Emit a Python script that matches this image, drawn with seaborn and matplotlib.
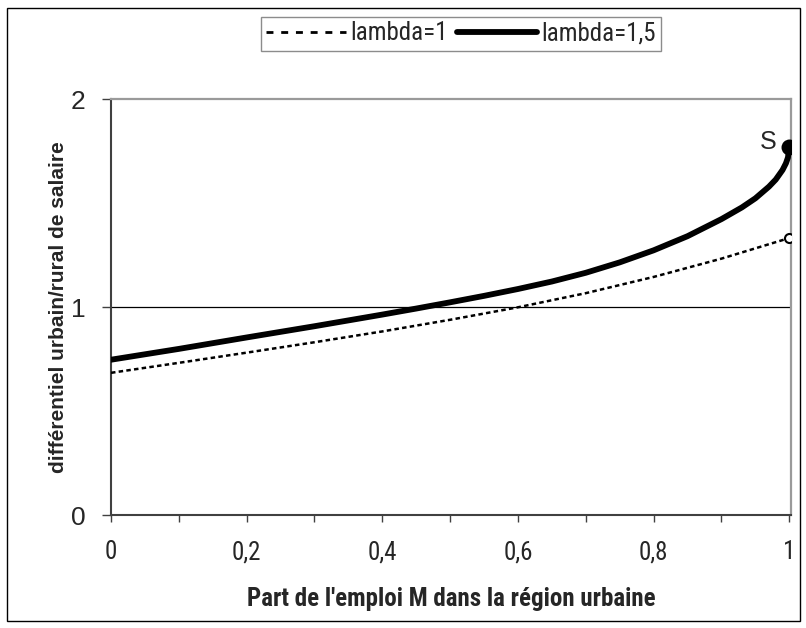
import matplotlib
matplotlib.use("Agg")
import matplotlib.pyplot as plt
from matplotlib.patches import Rectangle
import seaborn as sns
import pandas as pd

# ---- data ----
x_lambda1 = [0.0, 0.1, 0.2, 0.3, 0.4, 0.5, 0.6, 0.7, 0.8, 0.9, 1.0]
y_lambda1 = [0.685, 0.733, 0.782, 0.832, 0.884, 0.94, 1.0, 1.068, 1.146, 1.234, 1.333]

x_lambda15 = [0.0, 0.1, 0.2, 0.3, 0.4, 0.45, 0.5, 0.55, 0.6, 0.65, 0.7, 0.75, 0.8, 0.85,
              0.9, 0.93, 0.95, 0.97, 0.98, 0.99, 0.995, 0.998, 1.0]
y_lambda15 = [0.748, 0.800, 0.855, 0.909, 0.965, 0.994, 1.024, 1.055, 1.088, 1.124, 1.166,
              1.216, 1.274, 1.342, 1.424, 1.480, 1.524, 1.580, 1.614, 1.660, 1.692, 1.720, 1.770]

series_labels = ["lambda=1", "lambda=1,5"]
x_ticks = [0, 0.2, 0.4, 0.6, 0.8, 1.0]
x_ticklabels = ["0", "0,2", "0,4", "0,6", "0,8", "1"]
x_minor = [0.1, 0.3, 0.5, 0.7, 0.9]
y_ticks = [0, 1, 2]
y_ticklabels = ["0", "1", "2"]
point_label = "S"

df1 = pd.DataFrame({"x": x_lambda1, "y": y_lambda1})
df2 = pd.DataFrame({"x": x_lambda15, "y": y_lambda15})

sns.set_style("white")
plt.rcParams["font.family"] = ["Liberation Sans", "DejaVu Sans"]
NARROW = ["Roboto Condensed", "Archivo Narrow", "Liberation Sans", "DejaVu Sans"]

W, H = 806, 628
fig = plt.figure(figsize=(W / 100, H / 100), dpi=100)
ax = fig.add_axes([111 / W, 1 - 515.3 / H, (791 - 111) / W, (515.3 - 99.3) / H])

ax.axhline(1, color="black", lw=0.9, zorder=1)

sns.lineplot(data=df1, x="x", y="y", ax=ax, color="black", lw=1.8,
             estimator=None, sort=True, label=series_labels[0], zorder=3)
ax.lines[-1].set_dashes([1.8, 1.3])
sns.lineplot(data=df2, x="x", y="y", ax=ax, color="black", lw=4.2,
             estimator=None, sort=True, label=series_labels[1], zorder=3)
ax.lines[-1].set_solid_capstyle("round")

sns.scatterplot(x=[x_lambda1[-1]], y=[y_lambda1[-1]], ax=ax, s=6.5 ** 2,
                color="white", edgecolor="black", linewidth=1.5, zorder=5, legend=False)
sns.scatterplot(x=[x_lambda15[-1]], y=[y_lambda15[-1]], ax=ax, s=11.5 ** 2,
                color="black", edgecolor="black", linewidth=0, zorder=5, legend=False)
ax.annotate(point_label, (x_lambda15[-1], y_lambda15[-1]), xytext=(-15, 4),
            textcoords="offset points", ha="center", va="center", fontsize=18)

ax.set_xlim(0, (791 - 111) / 678.3)
ax.set_ylim(0, 2)

ax.set_xticks(x_ticks)
ax.set_xticklabels(x_ticklabels, fontsize=18, family=NARROW)
ax.set_xticks(x_minor, minor=True)
ax.set_yticks(y_ticks)
ax.set_yticklabels(y_ticklabels, fontsize=19)
ax.tick_params(axis="x", which="both", direction="out", length=5, width=1,
               color="#404040", pad=13, bottom=True)
ax.tick_params(axis="y", which="both", direction="out", length=6.5, width=1,
               color="#404040", pad=12, left=True)

for s in ["left", "bottom"]:
    ax.spines[s].set_color("#404040")
    ax.spines[s].set_linewidth(1.5)
for s in ["top", "right"]:
    ax.spines[s].set_color("#9a9a9a")
    ax.spines[s].set_linewidth(1.6)

ax.set_xlabel("Part de l'emploi M dans la région urbaine", family=NARROW,
              fontsize=18, fontweight="bold", labelpad=16)
ax.set_ylabel("différentiel urbain/rural de salaire", fontsize=15, fontweight="bold")
ax.yaxis.set_label_coords((68 - 111) / 680, 0.5)

handles, labels = ax.get_legend_handles_labels()
ax.get_legend().remove()
leg = fig.legend(handles, labels, loc="center", bbox_to_anchor=(461 / W, 1 - 33.5 / H),
                 ncol=2, prop={"size": 18, "family": NARROW},
                 handlelength=3.2, handletextpad=0.17, columnspacing=0.4,
                 borderpad=0.2, frameon=True, fancybox=False, borderaxespad=0)
leg.get_frame().set_edgecolor("#707070")
leg.get_frame().set_linewidth(1.0)
leg.get_lines()[0].set_linewidth(2.0)
leg.get_lines()[0].set_dashes([2.5, 2.8])

fig.patches.append(Rectangle((7 / W, 1 - 621 / H), (800 - 7) / W, (621 - 8) / H,
                             transform=fig.transFigure, fill=False, ec="black", lw=1))

fig.savefig("out.png", dpi=100)
